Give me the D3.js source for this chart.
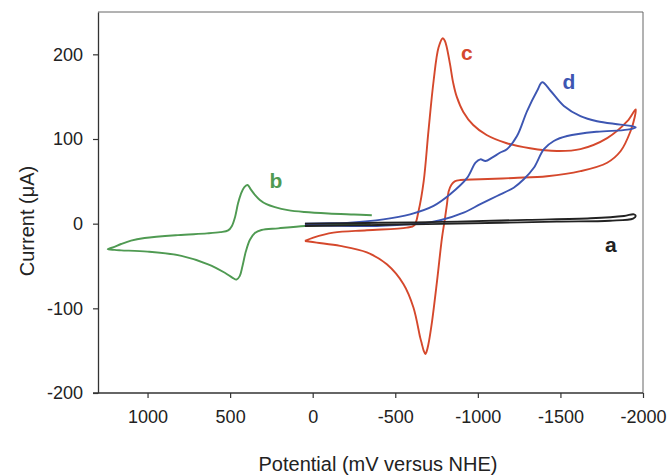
<!DOCTYPE html>
<html>
<head>
<meta charset="utf-8">
<script src="https://cdn.jsdelivr.net/npm/d3@7"></script>
<style>
  html, body { margin: 0; padding: 0; background: #fff; }
  svg { display: block; font-family: Arial, "Liberation Sans", sans-serif; }
</style>
</head>
<body>
<svg id="chart" width="667" height="475"></svg>
<script>
// ---- data (potential in mV vs NHE, current in µA) ----
const xTicks = [1000, 500, 0, -500, -1000, -1500, -2000];
const yTicks = [-200, -100, 0, 100, 200];

const curveB = [ // green
  [-358, 10], [-250, 10.8], [-95, 12], [50, 13.8], [150, 16], [229, 19.5], [280, 23], [320, 28],
  [350, 34], [375, 40.5], [395, 45.7], [415, 43], [435, 35], [452, 24], [470, 8], [490, -3],
  [512, -8], [560, -10], [640, -11.5], [816, -13.5], [1018, -17], [1100, -20], [1160, -24],
  [1210, -28], [1241, -30], [1200, -31], [1160, -31.5], [1000, -33], [795, -38], [633, -48],
  [532, -58], [485, -64], [461, -66], [442, -62], [425, -50], [405, -33], [380, -19], [350, -11],
  [310, -7.5], [209, -5.5], [47, -2.7], [-150, -1.5], [-350, -1]
];
const curveC = [ // red
  [47, -20.4], [-4, -16.5], [-125, -10.6], [-328, -7.8], [-570, -4.7], [-615, -2], [-641, 15],
  [-672, 50], [-701, 109.5], [-732, 168.5], [-762, 208], [-788, 219], [-800, 216], [-811, 209],
  [-831, 189], [-851, 166], [-872, 150], [-912, 132], [-972, 116.5], [-1053, 104.7], [-1175, 95],
  [-1316, 89], [-1479, 85.8], [-1621, 88], [-1783, 101], [-1905, 121], [-1956, 135], [-1950, 126],
  [-1925, 109.5], [-1865, 85.8], [-1783, 72], [-1621, 62], [-1419, 56], [-1217, 54], [-1015, 52.4],
  [-894, 51.6], [-860, 50], [-840, 46], [-823, 38], [-813, 23], [-800, 5], [-783, -16.5],
  [-753, -67.6], [-723, -115], [-700, -143], [-688, -152], [-682, -154], [-672, -150],
  [-661, -142], [-651, -134.6], [-610, -99], [-550, -71.5], [-449, -48], [-328, -34],
  [-166, -26.3], [-24, -22.4], [47, -20.4]
];
const curveD = [ // blue
  [47, 0], [-100, 0.5], [-226, 1.2], [-428, 5], [-590, 11], [-732, 21], [-834, 35], [-935, 54],
  [-986, 72], [-1015, 76], [-1046, 74], [-1086, 78], [-1136, 84], [-1176, 88], [-1237, 103.5],
  [-1298, 133], [-1359, 157], [-1390, 167], [-1440, 157], [-1521, 139], [-1621, 127], [-1722, 121],
  [-1864, 117], [-1956, 114], [-1905, 111], [-1722, 108.6], [-1541, 103.5], [-1460, 97.6],
  [-1400, 88], [-1339, 66], [-1278, 52.4], [-1217, 42.5], [-1116, 32.7], [-1015, 23], [-914, 13],
  [-772, 4], [-651, 0], [-510, -1.5], [-366, -2.7], [-150, -2.5], [47, -1.5]
];
const curveA = [ // black
  [47, 0], [-400, 1], [-874, 2.4], [-1300, 4.5], [-1683, 6.4], [-1885, 9.1], [-1945, 11],
  [-1956, 9], [-1940, 6], [-1800, 3.5], [-1479, 2.4], [-874, 0], [-400, -1.5], [47, -2.7]
];
const curveNames = ["a", "b", "c", "d"];
const labelPotential = [-1806, 222, -934, -1552];
const labelCurrent = [-34, 42, 193, 159];

// ---- layout ----
const svg = d3.select("#chart");
const mLeft = 98, mRight = 643, mTop = 12, mBottom = 393;
const x = d3.scaleLinear().domain([1300, -2000]).range([mLeft, mRight]);
const y = d3.scaleLinear().domain([-200, 250]).range([mBottom, mTop]);

const colors = { a: "#222222", b: "#4f9a52", c: "#d5482c", d: "#3d56b2" };

// frame (top & right)
svg.append("path")
  .attr("d", `M${mLeft},${mTop}H${mRight}V${mBottom}`)
  .attr("fill", "none").attr("stroke", "#666").attr("stroke-width", 1);

const line = d3.line()
  .x(d => x(d[0])).y(d => y(d[1]))
  .curve(d3.curveCatmullRom.alpha(0.5));

const lines = [
  { data: curveB, color: colors.b },
  { data: curveC, color: colors.c },
  { data: curveD, color: colors.d },
  { data: curveA, color: colors.a }
];
svg.append("g").selectAll("path").data(lines).join("path")
  .attr("d", d => line(d.data))
  .attr("fill", "none")
  .attr("stroke", d => d.color)
  .attr("stroke-width", 1.9)
  .attr("stroke-linejoin", "round");

// axes
const fmt = d => String(d);
const xAxis = svg.append("g").attr("transform", `translate(0,${mBottom})`)
  .call(d3.axisBottom(x).tickValues(xTicks).tickFormat(fmt).tickSize(5).tickPadding(12).tickSizeOuter(0));
const yAxis = svg.append("g").attr("transform", `translate(${mLeft},0)`)
  .call(d3.axisLeft(y).tickValues(yTicks).tickFormat(fmt).tickSize(5).tickPadding(10).tickSizeOuter(0));
[xAxis, yAxis].forEach(g => {
  g.select(".domain").attr("stroke", "#333").attr("stroke-width", 1.3);
  g.selectAll(".tick line").attr("stroke", "#333").attr("stroke-width", 1.2);
  g.selectAll("text").attr("font-size", 18).attr("fill", "#222")
    .attr("font-family", "Arial, 'Liberation Sans', sans-serif");
});
xAxis.select(".domain").attr("d", `M${mLeft - 5},0H${mRight}`);

// axis titles
svg.append("text")
  .attr("x", 378).attr("y", 471)
  .attr("text-anchor", "middle").attr("font-size", 20).attr("fill", "#222")
  .text("Potential (mV versus NHE)");
svg.append("text")
  .attr("transform", "translate(34,221) rotate(-90)")
  .attr("text-anchor", "middle").attr("font-size", 20).attr("fill", "#222")
  .text("Current (\u03bcA)");

// curve labels
svg.append("g").selectAll("text").data(curveNames).join("text")
  .attr("x", (d, i) => x(labelPotential[i]))
  .attr("y", (d, i) => y(labelCurrent[i]))
  .attr("text-anchor", "middle")
  .attr("font-size", 21).attr("font-weight", "bold")
  .attr("fill", d => colors[d])
  .text(d => d);
</script>
</body>
</html>
